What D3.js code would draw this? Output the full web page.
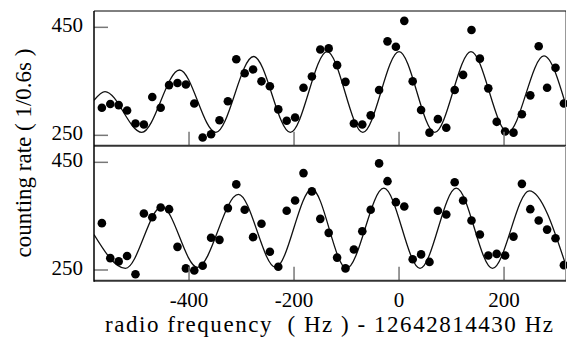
<!DOCTYPE html>
<html>
<head>
<meta charset="utf-8">
<script src="https://cdn.jsdelivr.net/npm/d3@7"></script>
<style>
  html, body { margin: 0; padding: 0; background: #fff; }
  svg { display: block; }
</style>
</head>
<body>
<svg id="chart" width="567" height="338"></svg>
<script>
// ---- data ----
const freqs = [-566, -550, -534, -518, -502, -486, -470, -454, -438, -422, -406, -390, -374, -358,
  -342, -326, -310, -294, -278, -262, -246, -230, -214, -198, -182, -166, -150, -134,
  -118, -102, -86, -70, -54, -38, -22, -6, 10, 26, 42, 58, 74, 90,
  106, 122, 138, 154, 170, 186, 202, 218, 234, 250, 266, 282, 298, 314];

const countsTop = [301, 308, 306, 296, 272, 270, 321, 301, 343, 347, 344, 309, 246, 252,
  278, 313, 391, 365, 372, 350, 341, 298, 277, 283, 338, 359, 409, 411,
  380, 349, 272, 270, 287, 334, 424, 414, 462, 350, 297, 255, 280, 264,
  334, 362, 445, 392, 337, 275, 257, 255, 289, 324, 415, 338, 375, 309];

const countsBottom = [337, 272, 266, 276, 242, 355, 348, 366, 363, 293, 253, 249, 258, 310,
  306, 365, 409, 362, 311, 336, 284, 256, 360, 379, 430, 396, 345, 319,
  273, 253, 288, 322, 362, 448, 415, 376, 368, 270, 279, 265, 360, 353,
  413, 379, 342, 316, 277, 280, 277, 312, 410, 363, 342, 325, 309, 259];

// fitted curves: turning points
const fitTopF = [-581, -560, -490, -418, -349, -277, -207, -137, -69, 0, 68, 137, 207, 276, 318];
const fitTopV = [315, 331, 255.5, 371, 255.5, 396, 255.5, 405, 255.5, 405, 255.5, 405, 255.5, 397, 305];

const fitBottomF = [-581, -521, -452, -384, -306, -235, -166, -100, -29, 40, 109, 178, 248, 318];
const fitBottomV = [316, 253, 367.5, 255, 390.5, 255, 400, 253, 402, 253, 402, 253, 397, 258];

const xTicks = [-400, -200, 0, 200];
const yTicks = [250, 450];

const xTitle = "radio frequency\u00a0\u00a0( Hz ) - 12642814430 Hz";
const yTitle = "counting rate ( 1/0.6s )";

const SERIF = "'Liberation Serif', 'Times New Roman', 'DejaVu Serif', serif";

// ---- layout ----
const svg = d3.select("#chart");
const left = 94, right = 566;
const x = d3.scaleLinear().domain([-581, 318]).range([left, right]);

const panels = [
  { top: 11, bottom: 145.7, y: d3.scaleLinear().domain([250, 450]).range([135.33, 27.33]),
    counts: countsTop, fitF: fitTopF, fitV: fitTopV },
  { top: 146, bottom: 280.7, y: d3.scaleLinear().domain([250, 450]).range([270, 162.33]),
    counts: countsBottom, fitF: fitBottomF, fitV: fitBottomV }
];

const defs = svg.append("defs");

panels.forEach((p, i) => {
  const g = svg.append("g");
  const clipId = "clip" + i;
  defs.append("clipPath").attr("id", clipId)
    .append("rect").attr("x", left).attr("y", p.top)
    .attr("width", right - left).attr("height", p.bottom - p.top);

  const fitPts = p.fitF.map((f, k) => [f, p.fitV[k]]);
  const line = d3.line().x(d => x(d[0])).y(d => p.y(d[1])).curve(d3.curveMonotoneX);
  g.append("path").datum(fitPts)
    .attr("clip-path", `url(#${clipId})`)
    .attr("d", line)
    .attr("fill", "none").attr("stroke", "#111").attr("stroke-width", 1.3);

  g.append("g").selectAll("circle").data(freqs.map((f, k) => [f, p.counts[k]]))
    .join("circle")
    .attr("cx", d => x(d[0])).attr("cy", d => p.y(d[1])).attr("r", 4.3)
    .attr("fill", "#000");

  g.append("g").selectAll("line").data(xTicks).join("line")
    .attr("x1", d => x(d)).attr("x2", d => x(d))
    .attr("y1", p.bottom).attr("y2", p.bottom - 14)
    .attr("stroke", "#777").attr("stroke-width", 1.5);

  g.append("g").selectAll("line").data(yTicks).join("line")
    .attr("x1", left).attr("x2", left + 14)
    .attr("y1", d => p.y(d)).attr("y2", d => p.y(d))
    .attr("stroke", "#777").attr("stroke-width", 1.5);

  g.append("g").selectAll("text").data(yTicks).join("text")
    .attr("x", 83).attr("y", d => p.y(d) + 5)
    .attr("text-anchor", "end").attr("font-size", 21)
    .attr("font-family", SERIF).attr("fill", "#000")
    .text(d => d);

  g.append("line").attr("x1", right - 0.5).attr("x2", right - 0.5)
    .attr("y1", p.top).attr("y2", p.bottom)
    .attr("stroke", "#999").attr("stroke-width", 1);
  g.append("line").attr("x1", left).attr("x2", right)
    .attr("y1", p.bottom).attr("y2", p.bottom)
    .attr("stroke", "#333").attr("stroke-width", 2);
});

svg.append("line").attr("x1", left).attr("x2", right).attr("y1", 11).attr("y2", 11)
  .attr("stroke", "#000").attr("stroke-width", 1);
svg.append("line").attr("x1", left).attr("x2", left).attr("y1", 11).attr("y2", 281.7)
  .attr("stroke", "#000").attr("stroke-width", 1.5);

svg.append("g").selectAll("text").data(xTicks).join("text")
  .attr("x", d => x(d)).attr("y", 307)
  .attr("text-anchor", "middle").attr("font-size", 21)
  .attr("font-family", SERIF).attr("fill", "#000")
  .text(d => d < 0 ? "-" + Math.abs(d) : d);

svg.append("text").attr("x", 329).attr("y", 332)
  .attr("text-anchor", "middle").attr("font-size", 23)
  .attr("textLength", 448).attr("lengthAdjust", "spacing")
  .attr("font-family", SERIF).attr("fill", "#000")
  .text(xTitle);

svg.append("text")
  .attr("transform", "translate(31,153) rotate(-90)")
  .attr("text-anchor", "middle").attr("font-size", 23)
  .attr("font-family", SERIF).attr("fill", "#000")
  .text(yTitle);
</script>
</body>
</html>
